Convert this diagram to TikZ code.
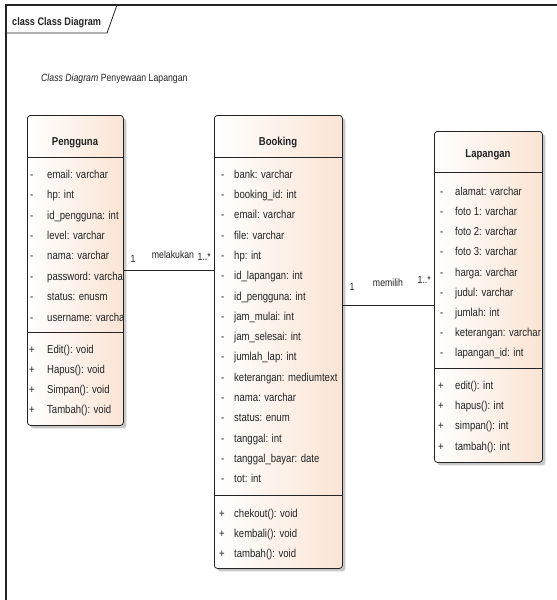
\documentclass[tikz,border=0pt]{standalone}
\usepackage{fontspec}
\setmainfont[FakeStretch=0.83]{Liberation Sans}
\usetikzlibrary{shadows}
\definecolor{peach}{RGB}{250,228,212}
\definecolor{ink}{RGB}{35,35,35}
\begin{document}
\begin{tikzpicture}[x=1pt,y=-1pt,
  classbox/.style={draw=ink, line width=0.8pt, rounded corners=3pt, left color=white, right color=peach,
    anchor=north west, inner sep=0pt,
    drop shadow={shadow xshift=3pt, shadow yshift=-3pt, fill=black!22, opacity=1}},
  sepline/.style={draw=ink, line width=0.8pt},
  row/.style={anchor=west, inner sep=0pt, text height=8.5pt, text depth=0pt, font=\fontsize{11.5}{13}\selectfont, text=ink},
  ctitle/.style={inner sep=0pt, text height=8.5pt, text depth=0pt, font=\fontsize{11.5}{13}\selectfont\bfseries, text=ink},
  lbl/.style={inner sep=0pt, text height=8pt, text depth=0pt, font=\fontsize{10.5}{12}\selectfont, text=ink},
  conn/.style={draw=ink, line width=0.8pt}
]
\useasboundingbox (0,0) rectangle (557,600);

% frame
\draw[ink, line width=1.2pt] (6,600) -- (6,5) -- (557,5);
\draw[ink, line width=0.8pt] (6,33) -- (107,33) -- (117,5);
\node[anchor=west, inner sep=0pt, text height=8pt, text depth=0pt, font=\fontsize{11}{13}\selectfont\bfseries, text=ink] (frametitle) at (12,21) {class Class Diagram};
\node[anchor=west, inner sep=0pt, text height=8pt, text depth=0pt, font=\fontsize{10.5}{12}\selectfont, text=ink] (note) at (41,77) {\textit{Class Diagram} Penyewaan Lapangan};

% classes
\node[classbox, minimum width=96pt, minimum height=310pt] (pengguna) at (27,115) {};
\node[classbox, minimum width=128pt, minimum height=453pt] (booking) at (214,115) {};
\node[classbox, minimum width=108pt, minimum height=331pt] (lapangan) at (434,131) {};

% separators
\draw[sepline] (pengguna.west |- 0,157) -- (pengguna.east |- 0,157);
\draw[sepline] (pengguna.west |- 0,332) -- (pengguna.east |- 0,332);
\draw[sepline] (booking.west |- 0,157) -- (booking.east |- 0,157);
\draw[sepline] (booking.west |- 0,495) -- (booking.east |- 0,495);
\draw[sepline] (lapangan.west |- 0,172) -- (lapangan.east |- 0,172);
\draw[sepline] (lapangan.west |- 0,368) -- (lapangan.east |- 0,368);

% titles
\node[ctitle] (pengguna-t) at (75,141) {Pengguna};
\node[ctitle] (booking-t) at (278,141) {Booking};
\node[ctitle] (lapangan-t) at (488,153) {Lapangan};

% Pengguna members
\begin{scope}
\clip (27.5,157) rectangle (122.5,425);
\foreach \t [count=\i from 0] in {email: varchar, hp: int, id\_pengguna: int, level: varchar, nama: varchar, password: varchar, status: enusm, username: varchar} {
  \node[row] (pv\i) at (30,{174+20.4*\i}) {-};
  \node[row] (pa\i) at (47,{174+20.4*\i}) {\t};
}
\end{scope}
\foreach \t [count=\i from 0] in {Edit(): void, Hapus(): void, Simpan(): void, Tambah(): void} {
  \node[row] (pp\i) at (29,{349+20*\i}) {+};
  \node[row] (po\i) at (47,{349+20*\i}) {\t};
}

% Booking members
\foreach \t [count=\i from 0] in {bank: varchar, booking\_id: int, email: varchar, file: varchar, hp: int, id\_lapangan: int, id\_pengguna: int, jam\_mulai: int, jam\_selesai: int, jumlah\_lap: int, keterangan: mediumtext, nama: varchar, status: enum, tanggal: int, tanggal\_bayar: date, tot: int} {
  \node[row] (bv\i) at (221,{174+20.3*\i}) {-};
  \node[row] (ba\i) at (234,{174+20.3*\i}) {\t};
}
\foreach \t [count=\i from 0] in {chekout(): void, kembali(): void, tambah(): void} {
  \node[row] (bp\i) at (219,{513+20*\i}) {+};
  \node[row] (bo\i) at (234,{513+20*\i}) {\t};
}

% Lapangan members
\foreach \t [count=\i from 0] in {alamat: varchar, foto 1: varchar, foto 2: varchar, foto 3: varchar, harga: varchar, judul: varchar, jumlah: int, keterangan: varchar, lapangan\_id: int} {
  \node[row] (lv\i) at (440,{191+20.2*\i}) {-};
  \node[row] (la\i) at (455,{191+20.2*\i}) {\t};
}
\foreach \t [count=\i from 0] in {edit(): int, hapus(): int, simpan(): int, tambah(): int} {
  \node[row] (lp\i) at (438,{385+20.3*\i}) {+};
  \node[row] (lo\i) at (455,{385+20.3*\i}) {\t};
}

% connectors
\draw[conn] (pengguna.east) -- (pengguna.east -| booking.west);
\node[lbl] (m1a) at (133,258) {1};
\node[lbl] (m1l) at (173,254) {melakukan};
\node[lbl, anchor=east] (m1b) at (211,256) {1..*};

\draw[conn] ([yshift=-8.5pt]lapangan.west -| booking.east) -- ([yshift=-8.5pt]lapangan.west);
\node[lbl] (m2a) at (352,286) {1};
\node[lbl] (m2l) at (388,282) {memilih};
\node[lbl, anchor=east] (m2b) at (431,279) {1..*};
\end{tikzpicture}
\end{document}
